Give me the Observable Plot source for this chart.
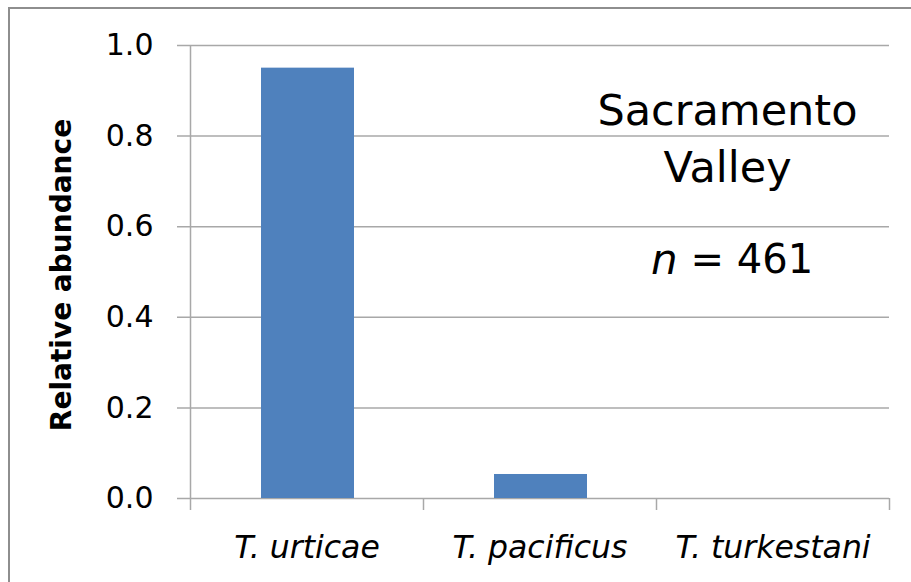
<!DOCTYPE html>
<html><head><meta charset="utf-8">
<script src="https://cdn.jsdelivr.net/npm/d3@7"></script>
<script src="https://cdn.jsdelivr.net/npm/@observablehq/plot@0.6"></script>
<style>
body{margin:0;background:#fff;overflow:hidden}
#wrap{position:relative;width:911px;height:582px;overflow:hidden}
#wrap svg{display:block}
#border{position:absolute;left:8px;top:7px;width:1000px;height:700px;border-left:2px solid #8e8e8e;border-top:2px solid #8e8e8e;pointer-events:none}
</style></head><body><div id="wrap"><div id="border"></div></div>
<script>
const species = ["T. urticae", "T. pacificus", "T. turkestani"];
const abundance = [0.95, 0.053, 0];
const yTicks = [0, 0.2, 0.4, 0.6, 0.8, 1.0];
const yLabel = "Relative abundance";
const regionLines = ["Sacramento", "Valley"];
const sampleSize = 461;

const data = species.map((s, i) => ({species: s, index: i, value: abundance[i]}));
const boundaries = d3.range(species.length + 1);
const centers = species.map((_, i) => i + 0.5);
const gridColor = "#a8a8a8";

const chart = Plot.plot({
  width: 911, height: 582,
  marginLeft: 190, marginRight: 22, marginTop: 45, marginBottom: 84,
  style: {fontFamily: "DejaVu Sans", background: "white", color: "black", overflow: "visible"},
  x: {domain: [0, species.length], axis: null},
  y: {domain: [0, 1], axis: null},
  marks: [
    Plot.ruleY(yTicks, {y: d => d, x1: 0, x2: species.length, insetLeft: -13, stroke: gridColor, strokeWidth: 1.5}),
    Plot.ruleX([0], {y1: 0, y2: 1, stroke: gridColor, strokeWidth: 1.5}),
    Plot.axisY({ticks: yTicks, tickFormat: d3.format(".1f"), tickSize: 0, tickPadding: 37, fontSize: 30, label: null}),
    Plot.axisX({ticks: boundaries, tickFormat: () => "", tickSize: 12, stroke: gridColor, strokeWidth: 1.5, label: null}),
    Plot.axisX({ticks: centers, tickFormat: c => species[Math.floor(c)], tickSize: 0, tickPadding: 37, fontSize: 31.5, fontStyle: "italic", label: null}),
    Plot.rectY(data, {x1: d => d.index, x2: d => d.index + 1, y: "value", fill: "#4f81bd", insetLeft: 71, insetRight: 69}),
    Plot.text([yLabel], {frameAnchor: "left", textAnchor: "middle", rotate: -90, dx: -128, dy: 3, fontSize: 28, fontWeight: "bold"}),
    Plot.text([regionLines.join("\n")], {frameAnchor: "top-right", dx: -162, dy: 39, lineAnchor: "top", lineHeight: 1.33, fontSize: 43, textAnchor: "middle"}),
    Plot.text(["n"], {frameAnchor: "top-right", dx: -212, dy: 199, lineAnchor: "top", fontSize: 42, fontStyle: "italic", textAnchor: "end"}),
    Plot.text([`= ${sampleSize}`], {frameAnchor: "top-right", dx: -199, dy: 199, lineAnchor: "top", fontSize: 40, textAnchor: "start"})
  ]
});
const wrap = document.getElementById("wrap");
wrap.insertBefore(chart, wrap.firstChild);
</script>
</body></html>
